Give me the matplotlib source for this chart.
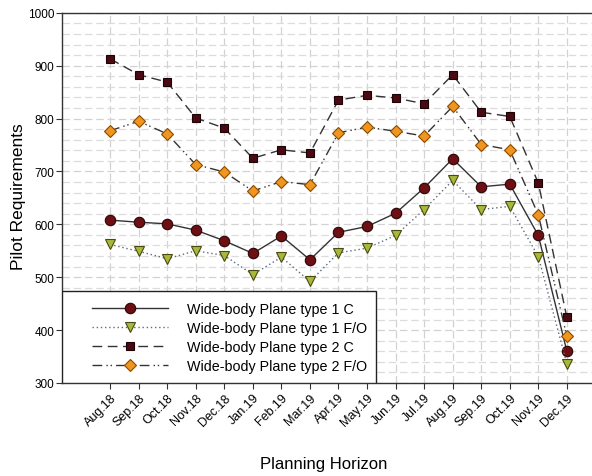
import numpy as np
import matplotlib
matplotlib.use("Agg")
import matplotlib.pyplot as plt
from matplotlib.patches import Rectangle
from matplotlib.ticker import MultipleLocator

plt.rcParams['font.family'] = ['Liberation Sans', 'DejaVu Sans']

months = ["Aug.18", "Sep.18", "Oct.18", "Nov.18", "Dec.18", "Jan.19", "Feb.19",
          "Mar.19", "Apr.19", "May.19", "Jun.19", "Jul.19", "Aug.19", "Sep.19",
          "Oct.19", "Nov.19", "Dec.19"]

type1_c = [608, 604, 601, 589, 569, 545, 578, 533, 585, 596, 621, 669, 724, 671, 676, 579, 360]
type1_fo = [562, 549, 535, 550, 541, 505, 538, 492, 546, 555, 579, 628, 683, 628, 634, 539, 336]
type2_c = [913, 883, 869, 801, 782, 725, 741, 735, 835, 844, 839, 828, 883, 812, 804, 678, 424]
type2_fo = [777, 795, 771, 713, 699, 663, 681, 675, 773, 784, 776, 767, 823, 751, 741, 618, 388]

labels = ["Wide-body Plane type 1 C", "Wide-body Plane type 1 F/O",
          "Wide-body Plane type 2 C", "Wide-body Plane type 2 F/O"]

x = np.arange(len(months))

fig = plt.figure(figsize=(5.92, 4.77), dpi=100)
ax = fig.add_axes([0.105, 0.195, 0.895, 0.776])

ax.plot(x, type1_c, color="#333333", lw=1.0, ls="-", marker="o", ms=7.5,
        mfc="#6e0f14", mec="#2a0505", mew=0.8, label=labels[0], zorder=3)
ax.plot(x, type1_fo, color="#5a6a80", lw=1.0, ls=(0, (1, 2)), marker="v", ms=7.5,
        mfc="#a8b83a", mec="#4a4a10", mew=0.8, label=labels[1], zorder=3)
ax.plot(x, type2_c, color="#333333", lw=1.0, ls=(0, (7, 4)), marker="s", ms=6,
        mfc="#4a0a12", mec="#1a0205", mew=0.8, label=labels[2], zorder=3)
ax.plot(x, type2_fo, color="#333333", lw=1.0, ls=(0, (7, 3, 1, 2, 1, 3)), marker="D", ms=6.5,
        mfc="#f0961e", mec="#8a4a00", mew=0.8, label=labels[3], zorder=3)

ax.set_xlim(-1.68, 16.88)
ax.set_ylim(300, 1000)
ax.set_xticks(x)
ax.set_xticklabels(months, rotation=45, ha="right", rotation_mode="anchor", fontsize=9)
ax.yaxis.set_major_locator(MultipleLocator(100))
ax.yaxis.set_minor_locator(MultipleLocator(20))
ax.tick_params(axis="y", which="minor", length=0)
ax.tick_params(axis="y", which="major", labelsize=8.5, length=4, pad=1.5, color="#333333")
ax.tick_params(axis="x", which="major", length=4, pad=2, color="#333333")

ax.grid(True, which="major", axis="both", ls=(0, (6, 3)), color="#d2d2d2", lw=0.9, zorder=0)
ax.grid(True, which="minor", axis="y", ls=(0, (6, 3)), color="#dcdcdc", lw=0.9, zorder=0)

ax.spines["right"].set_visible(False)
for s in ["left", "bottom", "top"]:
    ax.spines[s].set_color("#333333")
    ax.spines[s].set_linewidth(1.0)

ax.set_ylabel("Pilot Requirements", fontsize=12.5)
ax.yaxis.set_label_coords(-0.069, 0.507)
ax.set_xlabel("Planning Horizon", fontsize=12)
ax.xaxis.set_label_coords(0.493, -0.197)

# legend box drawn separately (wider left padding than right)
box = Rectangle((0, 0), 0.5925, 0.2486, transform=ax.transAxes, facecolor="white",
                edgecolor="#222222", lw=1.0, zorder=4)
ax.add_patch(box)
leg = ax.legend(loc="lower left", bbox_to_anchor=(0.0566, 0.028), fontsize=10.3,
                handlelength=5.3, frameon=False, borderpad=0, labelspacing=0.33,
                handletextpad=1.3, borderaxespad=0)
leg.set_zorder(5)

fig.savefig("out.png", dpi=100)
